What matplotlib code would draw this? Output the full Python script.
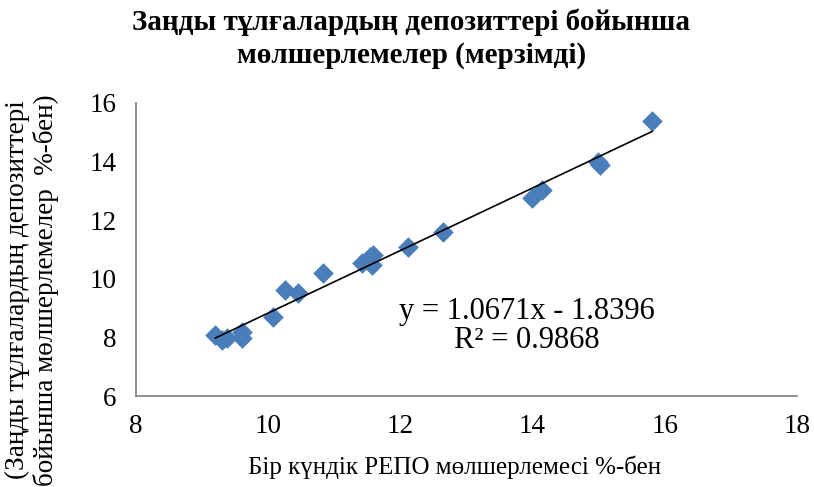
import matplotlib
matplotlib.use("Agg")
import matplotlib.pyplot as plt
import numpy as np

plt.rcParams['font.family'] = ['Liberation Serif', 'DejaVu Serif']

# Data
repo_rate = [9.20, 9.30, 9.38, 9.60, 9.60, 10.07, 10.25, 10.45, 10.83,
             11.42, 11.54, 11.57, 11.59, 12.11, 12.64, 13.99, 14.14,
             14.99, 15.02, 15.81]
deposit_rate = [8.08, 7.91, 7.98, 8.18, 7.98, 8.70, 9.62, 9.52, 10.20,
                10.54, 10.74, 10.47, 10.81, 11.09, 11.60, 12.76, 13.03,
                13.99, 13.88, 15.39]
slope = 1.0671
intercept = -1.8396
r_squared = 0.9868

x_ticks = [8, 10, 12, 14, 16, 18]
y_ticks = [6, 8, 10, 12, 14, 16]

title = "Заңды тұлғалардың депозиттері бойынша\nмөлшерлемелер (мерзімді)"
x_label = "Бір күндік РЕПО мөлшерлемесі %-бен"
y_label = "(Заңды тұлғалардың депозиттері\nбойынша мөлшерлемелер  %-бен)"

fig = plt.figure(figsize=(8.14, 4.87), dpi=100)
ax = fig.add_axes([136/814, 1-396/487, (797-136)/814, (396-103)/487])

ax.scatter(repo_rate, deposit_rate, marker='D', s=10.5**2, color='#4A7EBB',
           linewidths=0, zorder=3)

xs = np.array([min(repo_rate), max(repo_rate)])
ax.plot(xs, slope*xs + intercept, color='black', lw=1.2, zorder=4)

ax.set_xlim(8, 18)
ax.set_ylim(6, 16)
ax.set_xticks(x_ticks)
ax.set_yticks(y_ticks)
ax.tick_params(length=0, labelsize=19.5)
ax.tick_params(axis='x', pad=13)
ax.tick_params(axis='y', pad=14)
for s in ['top', 'right']:
    ax.spines[s].set_visible(False)
for s in ['left', 'bottom']:
    ax.spines[s].set_color('#868686')
    ax.spines[s].set_linewidth(1.3)

ax.text(13.92, 8.38, f"y = {slope}x - {abs(intercept)}\nR² = {r_squared}",
        ha='center', va='center', fontsize=22, linespacing=1.0)

fig.text(0.505, 0.982, title, ha='center', va='top', fontsize=21,
         fontweight='bold', linespacing=1.25)
fig.text(0.558, 0.04, x_label, ha='center', va='center', fontsize=18)
fig.text(0.039, 0.405, y_label, ha='center', va='center', rotation=90,
         fontsize=19.5, linespacing=1.15)

fig.savefig("out.png", dpi=100)
